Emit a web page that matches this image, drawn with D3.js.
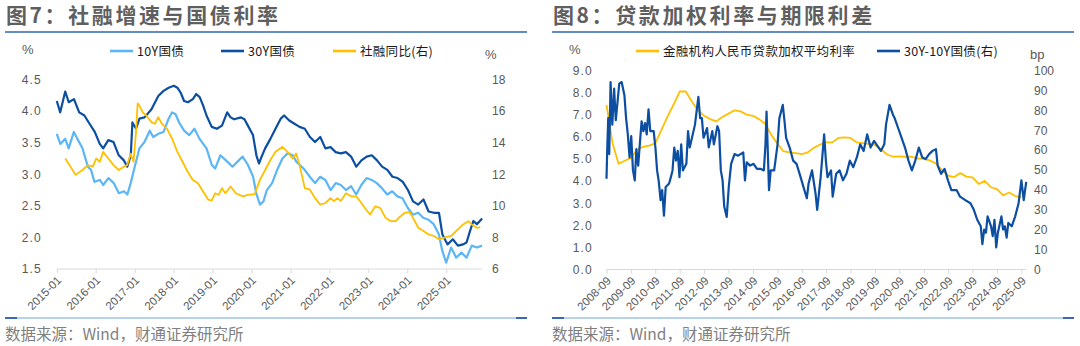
<!DOCTYPE html>
<html><head><meta charset="utf-8">
<script src="https://cdn.jsdelivr.net/npm/d3@7"></script>
<style>
html,body{margin:0;padding:0;background:#fff;}
svg{display:block;}
</style></head><body>
<svg id="c" width="1080" height="346"></svg>
<script>
// ---------- Chart 7 data ----------
const bond10yDates = ["2015-01-01","2015-02-03","2015-03-21","2015-04-22","2015-06-10","2015-07-13","2015-08-30","2015-10-19","2015-11-18","2015-12-20","2016-02-09","2016-03-11","2016-04-29","2016-06-18","2016-08-05","2016-09-22","2016-10-24","2016-11-24","2016-12-28","2017-02-14","2017-04-02","2017-05-22","2017-06-23","2017-08-10","2017-09-28","2017-11-15","2017-12-17","2018-01-19","2018-02-21","2018-04-09","2018-05-27","2018-07-15","2018-09-01","2018-11-05","2018-12-24","2019-01-25","2019-03-15","2019-05-19","2019-07-06","2019-08-23","2019-10-10","2019-11-28","2020-01-16","2020-02-17","2020-03-21","2020-04-22","2020-05-24","2020-07-12","2020-08-29","2020-10-17","2020-12-04","2021-01-22","2021-02-24","2021-03-27","2021-05-14","2021-07-01","2021-08-19","2021-10-06","2021-11-24","2022-01-12","2022-03-01","2022-04-18","2022-06-05","2022-07-23","2022-09-09","2022-10-27","2022-12-15","2023-02-01","2023-03-21","2023-05-08","2023-06-26","2023-08-13","2023-09-30","2023-11-17","2024-01-05","2024-02-23","2024-04-12","2024-05-30","2024-07-18","2024-09-05","2024-10-23","2024-11-24","2024-12-31","2025-02-15","2025-04-04","2025-05-23","2025-07-10","2025-08-28","2025-10-15","2025-12-03"];
const bond10yValues = [3.64,3.48,3.56,3.41,3.67,3.56,3.41,3.12,3.07,2.88,2.91,2.83,2.94,2.86,2.70,2.73,2.68,2.86,3.09,3.41,3.51,3.69,3.59,3.64,3.67,3.88,3.98,3.95,3.82,3.69,3.62,3.72,3.56,3.41,3.15,3.09,3.30,3.20,3.12,3.20,3.28,3.15,2.96,2.68,2.52,2.57,2.75,2.86,3.07,3.25,3.33,3.30,3.20,3.15,3.07,2.96,2.86,2.96,2.91,2.75,2.86,2.83,2.75,2.81,2.68,2.83,2.94,2.91,2.86,2.78,2.68,2.73,2.65,2.62,2.47,2.36,2.39,2.31,2.28,2.21,2.05,1.79,1.60,1.84,1.68,1.76,1.68,1.87,1.84,1.87];

const bond30yDates = ["2015-01-01","2015-02-02","2015-03-21","2015-04-23","2015-06-11","2015-07-30","2015-09-17","2015-11-04","2015-12-23","2016-02-08","2016-03-11","2016-04-28","2016-06-16","2016-08-04","2016-09-21","2016-10-23","2016-11-25","2016-12-10","2017-01-13","2017-02-14","2017-04-03","2017-06-07","2017-08-10","2017-09-28","2017-11-15","2018-01-03","2018-02-05","2018-03-08","2018-04-09","2018-05-15","2018-06-30","2018-07-31","2018-09-02","2018-10-04","2018-11-05","2018-12-24","2019-02-10","2019-03-30","2019-05-18","2019-06-19","2019-07-22","2019-09-24","2019-10-27","2019-11-28","2020-01-15","2020-02-16","2020-03-11","2020-04-05","2020-05-08","2020-06-26","2020-08-13","2020-10-01","2020-11-02","2020-12-20","2021-02-07","2021-03-27","2021-05-15","2021-07-02","2021-08-19","2021-10-07","2021-11-24","2022-01-11","2022-02-28","2022-04-17","2022-06-05","2022-07-23","2022-09-10","2022-10-28","2022-12-16","2023-02-02","2023-03-23","2023-05-10","2023-06-28","2023-08-15","2023-10-02","2023-11-20","2024-01-07","2024-02-24","2024-04-13","2024-06-01","2024-07-19","2024-09-06","2024-10-24","2024-11-25","2024-12-28","2025-01-13","2025-03-03","2025-04-20","2025-06-08","2025-07-10","2025-08-11","2025-09-12","2025-10-15","2025-12-03"];
const bond30yValues = [4.16,3.98,4.31,4.14,4.19,3.98,3.93,3.80,3.67,3.48,3.41,3.54,3.51,3.30,3.22,3.12,3.30,3.82,3.72,3.88,3.90,4.03,4.24,4.32,4.37,4.40,4.37,4.29,4.16,4.14,4.19,4.27,4.22,4.09,3.93,3.75,3.72,3.77,3.98,3.90,3.87,3.90,3.87,3.77,3.62,3.30,3.17,3.28,3.41,3.56,3.72,3.88,3.93,3.85,3.80,3.75,3.72,3.59,3.51,3.59,3.41,3.43,3.35,3.33,3.35,3.28,3.12,3.22,3.28,3.30,3.22,3.12,3.07,2.96,2.94,2.88,2.75,2.57,2.52,2.60,2.41,2.39,2.39,2.05,1.94,1.89,1.97,1.87,1.89,1.92,2.10,2.26,2.21,2.30];

const tsfDates = ["2015-03-21","2015-06-27","2015-08-30","2015-10-18","2015-12-05","2016-01-06","2016-02-08","2016-03-11","2016-04-28","2016-06-16","2016-08-04","2016-09-21","2016-10-23","2016-11-25","2016-12-20","2017-01-13","2017-01-28","2017-02-14","2017-03-17","2017-04-19","2017-06-07","2017-07-09","2017-08-10","2017-09-12","2017-10-30","2017-12-18","2018-02-05","2018-03-25","2018-05-12","2018-06-30","2018-08-17","2018-10-04","2018-11-22","2018-12-24","2019-01-25","2019-02-27","2019-03-30","2019-05-01","2019-06-19","2019-08-07","2019-10-11","2019-11-28","2020-01-31","2020-03-20","2020-05-08","2020-06-26","2020-08-13","2020-10-16","2020-12-04","2021-01-21","2021-02-23","2021-03-27","2021-05-15","2021-07-02","2021-08-19","2021-10-07","2021-11-24","2022-01-11","2022-02-12","2022-03-17","2022-04-17","2022-06-05","2022-07-23","2022-09-10","2022-10-28","2022-11-29","2023-01-17","2023-03-07","2023-04-24","2023-06-11","2023-07-30","2023-09-16","2023-10-19","2023-12-06","2024-01-24","2024-02-24","2024-04-13","2024-06-01","2024-07-19","2024-09-06","2024-10-24","2024-12-12","2025-02-15","2025-04-20","2025-06-08","2025-07-26","2025-08-28","2025-10-15","2025-11-16"];
const tsfValues = [13.0,11.96,12.27,12.58,12.48,13.0,12.79,13.42,13.0,12.58,12.27,12.48,12.58,13.31,12.79,14.67,16.49,16.35,15.92,15.72,15.3,15.2,15.61,15.2,14.88,14.25,13.42,12.79,12.16,11.64,11.43,10.91,10.39,10.33,10.8,10.7,11.12,10.8,11.22,10.8,10.6,10.7,10.74,11.64,12.27,12.9,13.42,13.73,13.42,13.0,13.31,12.58,11.12,11.02,10.49,10.08,10.18,10.49,10.3,10.49,10.3,10.8,10.6,10.6,10.18,9.86,9.45,9.97,9.86,9.24,9.03,9.03,9.28,9.55,9.61,9.24,8.61,8.40,8.19,8.09,7.88,7.98,8.09,8.51,8.82,9.03,8.82,8.61,8.65];

const chart7XTicks = ["2015-01","2016-01","2017-01","2018-01","2019-01","2020-01","2021-01","2022-01","2023-01","2024-01","2025-01"];
const chart7YTicks = [1.5,2.0,2.5,3.0,3.5,4.0,4.5];
const chart7Y2Ticks = [6,8,10,12,14,16,18];

// ---------- Chart 8 data ----------
const loanRateDates = ["2008-09-01","2008-12-01","2009-03-01","2009-06-01","2009-09-01","2009-12-01","2010-03-01","2010-06-01","2010-09-01","2010-12-01","2011-03-01","2011-06-01","2011-09-01","2011-12-01","2012-03-01","2012-06-01","2012-09-01","2012-12-01","2013-03-01","2013-06-01","2013-09-01","2013-12-01","2014-03-01","2014-06-01","2014-09-01","2014-12-01","2015-03-01","2015-06-01","2015-09-01","2015-12-01","2016-03-01","2016-06-01","2016-09-01","2016-12-01","2017-03-01","2017-06-01","2017-09-01","2017-12-01","2018-03-01","2018-06-01","2018-09-01","2018-12-01","2019-03-01","2019-06-01","2019-09-01","2019-12-01","2020-03-01","2020-06-01","2020-09-01","2020-12-01","2021-03-01","2021-06-01","2021-09-01","2021-12-01","2022-03-01","2022-06-01","2022-09-01","2022-12-01","2023-03-01","2023-06-01","2023-09-01","2023-12-01","2024-03-01","2024-06-01","2024-09-01","2024-12-01","2025-03-01","2025-06-01","2025-09-01"];
const loanRateValues = [7.44,5.7,4.78,4.92,5.05,5.4,5.55,5.6,5.7,6.3,6.9,7.45,8.05,8.05,7.6,7.2,6.95,6.8,6.7,6.9,7.05,7.2,7.15,7.0,6.95,6.8,6.6,6.1,5.7,5.35,5.3,5.26,5.22,5.3,5.5,5.65,5.75,5.75,5.95,5.98,5.95,5.75,5.72,5.68,5.62,5.44,5.2,5.1,5.12,5.1,5.1,5.02,5.0,4.93,4.8,4.5,4.25,4.18,4.36,4.2,4.17,3.87,4.01,3.72,3.64,3.35,3.48,3.32,3.27];

const spreadDates = ["2008-09-01","2008-09-12","2008-09-27","2008-10-12","2008-11-01","2008-11-27","2008-12-24","2009-01-18","2009-03-11","2009-04-16","2009-05-27","2009-06-21","2009-07-17","2009-08-12","2009-09-06","2009-10-02","2009-10-29","2009-11-22","2009-12-19","2010-02-08","2010-03-07","2010-04-02","2010-04-26","2010-05-23","2010-06-18","2010-08-08","2010-09-03","2010-09-28","2010-10-24","2010-11-19","2010-12-13","2011-01-09","2011-02-04","2011-03-27","2011-04-22","2011-05-17","2011-06-12","2011-07-08","2011-08-03","2011-08-29","2011-09-24","2011-10-19","2011-12-10","2012-01-04","2012-01-30","2012-04-17","2012-06-07","2012-07-03","2012-07-29","2012-08-23","2012-10-15","2012-11-09","2013-01-01","2013-01-25","2013-03-19","2013-04-13","2013-05-09","2013-06-04","2013-06-29","2013-08-05","2013-09-05","2013-10-10","2013-11-30","2014-01-22","2014-04-10","2014-05-05","2014-05-31","2014-07-20","2014-09-11","2014-11-01","2014-12-22","2015-02-12","2015-03-08","2015-03-24","2015-04-30","2015-05-25","2015-07-16","2015-09-05","2015-10-02","2015-11-22","2015-12-18","2016-01-11","2016-03-04","2016-04-25","2016-06-15","2016-08-07","2016-09-26","2016-11-16","2016-12-12","2017-02-02","2017-03-26","2017-04-20","2017-06-11","2017-08-02","2017-08-28","2017-09-21","2017-11-13","2017-12-08","2018-01-29","2018-03-21","2018-05-11","2018-07-02","2018-08-22","2018-10-12","2018-12-04","2019-01-24","2019-03-16","2019-05-08","2019-06-28","2019-08-18","2019-10-09","2019-11-29","2020-01-19","2020-02-14","2020-04-06","2020-05-28","2020-06-22","2020-08-13","2020-10-04","2020-11-24","2021-01-15","2021-03-07","2021-04-27","2021-06-19","2021-08-09","2021-09-29","2021-11-20","2022-01-10","2022-03-02","2022-03-28","2022-05-18","2022-07-09","2022-08-29","2022-10-19","2023-01-05","2023-02-26","2023-05-15","2023-07-31","2023-09-20","2023-11-10","2024-01-02","2024-01-26","2024-02-22","2024-03-19","2024-04-13","2024-06-04","2024-06-29","2024-07-25","2024-08-20","2024-09-14","2024-11-06","2024-12-01","2024-12-27","2025-01-23","2025-02-17","2025-04-10","2025-05-31","2025-07-21","2025-09-01","2025-10-06","2025-11-12"];
const spreadValues = [45.6,60.5,76.1,58,94.2,72.8,90.9,75,93.4,94.2,87.6,76.1,67.9,56.3,67.0,49.8,44.8,60.5,52.2,74.5,69.5,73.6,67.9,80.5,69.5,69.5,61.3,49.8,44,34.9,39.9,27,41.5,43.2,46.4,49.8,61.3,54.7,59.6,46.4,62.9,49.8,53.1,69.5,61.3,72.8,86.8,76,76.1,66.2,71.1,61.3,69.5,62.9,72.0,69.5,49.8,44.8,31.6,26.4,41.5,53.1,58.0,57.2,58.8,44.8,53.9,52.2,53.1,50.6,50.6,49.8,62.9,79.4,39.9,49.8,49.8,62.9,76,82.7,74.5,66.2,61.3,54.7,53.1,47.3,41.5,35.8,43.2,49.8,38.2,30.0,46.4,67.9,54.7,46.4,49.8,36.6,48.1,49.8,44.8,48.1,54.7,51.4,56.3,62.9,59.6,67.9,61.3,64.6,62.1,59.6,62.9,72.8,82.7,77.8,76.1,71.1,66.2,61.3,54.7,49.8,54.7,61.3,56.3,55.5,58.0,59.6,60.5,52.2,48.1,50.6,44.8,39.9,39.9,36.6,34.9,33.3,30.0,25.0,21.7,12.7,20,18.5,26.7,21.7,16.8,25.0,11.1,18.5,26.7,20.1,21.7,16.0,23.4,21.7,26.7,33.3,44.8,34.9,44.0];

const chart8XTicks = ["2008-09","2009-09","2010-09","2011-09","2012-09","2013-09","2014-09","2015-09","2016-09","2017-09","2018-09","2019-09","2020-09","2021-09","2022-09","2023-09","2024-09","2025-09"];
const chart8YTicks = [0,1,2,3,4,5,6,7,8,9];
const chart8Y2Ticks = [0,10,20,30,40,50,60,70,80,90,100];

// ---------- drawing ----------
const svg = d3.select("#c");
const parseDay = d3.timeParse("%Y-%m-%d");
const parseMonth = d3.timeParse("%Y-%m");
const zip = (ds, vs) => ds.map((d, i) => ({date: parseDay(d), v: vs[i]}));

const C10 = "#5cb6f5", C30 = "#0b4ea2", CY = "#ffc000";
const CJK = "'Noto Sans CJK SC', sans-serif";
const NUM = "'Liberation Sans', Arial, sans-serif";
const AXC = "#595959";

function frame(x0, x1, title) {
  svg.append("text").attr("x", x0 + 1).attr("y", 23)
    .attr("font-family", CJK).attr("font-size", 21).attr("font-weight", 700)
    .attr("letter-spacing", 2.6).attr("fill", "#5f5f5f").text(title);
  svg.append("line").attr("x1", x0).attr("x2", x1).attr("y1", 32).attr("y2", 32)
    .attr("stroke", "#2f66b3").attr("stroke-width", 1.6);
  svg.append("line").attr("x1", x0).attr("x2", x1).attr("y1", 318).attr("y2", 318)
    .attr("stroke", "#9fc3e8").attr("stroke-width", 1.4);
  svg.append("line").attr("x1", x0).attr("x2", x0 + 12).attr("y1", 318).attr("y2", 318)
    .attr("stroke", "#1b4f9c").attr("stroke-width", 1.6);
  svg.append("line").attr("x1", x1 - 11).attr("x2", x1).attr("y1", 318).attr("y2", 318)
    .attr("stroke", "#1b4f9c").attr("stroke-width", 1.6);
  svg.append("text").attr("x", x0).attr("y", 340)
    .attr("font-family", CJK).attr("font-size", 15.5).attr("fill", "#7f7f7f")
    .text("数据来源：Wind，财通证券研究所");
}

function xAxis(x, ticks, y0, xEnd) {
  svg.append("line").attr("x1", x.range()[0]).attr("x2", xEnd).attr("y1", y0).attr("y2", y0)
    .attr("stroke", "#d9d9d9").attr("stroke-width", 1);
  const g = svg.append("g").attr("transform", `translate(0,${y0})`)
    .call(d3.axisBottom(x).tickValues(ticks.map(parseMonth))
      .tickFormat(d3.timeFormat("%Y-%m")).tickSize(4).tickPadding(2));
  g.select(".domain").remove();
  g.selectAll(".tick line").attr("stroke", "#d9d9d9");
  g.selectAll(".tick text")
    .attr("font-family", NUM).attr("font-size", 11.5).attr("fill", AXC)
    .attr("text-anchor", "end").attr("x", 0).attr("y", 0).attr("dy", "0.35em")
    .attr("transform", "translate(2,9) rotate(-45)");
}

function yAxis(scale, ticks, fmt, xPos, side, ls) {
  const ax = side === "left" ? d3.axisLeft(scale) : d3.axisRight(scale);
  const g = svg.append("g").attr("transform", `translate(${xPos},0)`)
    .call(ax.tickValues(ticks).tickFormat(fmt).tickSize(0).tickPadding(0));
  g.select(".domain").remove();
  g.selectAll(".tick text").attr("font-family", NUM).attr("font-size", 12)
    .attr("fill", AXC).attr("letter-spacing", ls || 0);
}

function legendItem(x, y, color, label) {
  svg.append("line").attr("x1", x).attr("x2", x + 23).attr("y1", y).attr("y2", y)
    .attr("stroke", color).attr("stroke-width", 2.6);
  svg.append("text").attr("x", x + 27).attr("y", y + 4.5)
    .attr("font-family", CJK).attr("font-size", 12.5).attr("fill", "#1a1a1a")
    .attr("letter-spacing", 0.3).text(label);
}

function unitLabel(x, y, t, anchor) {
  svg.append("text").attr("x", x).attr("y", y).attr("text-anchor", anchor || "start")
    .attr("font-family", NUM).attr("font-size", 13).attr("fill", AXC).text(t);
}

// ===== Chart 7 =====
frame(5, 527, "图7：社融增速与国债利率");
const x7 = d3.scaleTime().domain([parseMonth("2015-01"), parseMonth("2025-01")]).range([56.8, 446.3]);
const y7 = d3.scaleLinear().domain([1.5, 4.5]).range([269, 79.5]);
const y7r = d3.scaleLinear().domain([6, 18]).range([269, 79.5]);
xAxis(x7, chart7XTicks, 269, x7(parseDay("2025-12-03")));
yAxis(y7, chart7YTicks, d3.format(".1f"), 42, "left", 1.2);
yAxis(y7r, chart7Y2Ticks, d3.format("d"), 492, "right");
unitLabel(22, 54, "%");
unitLabel(485, 59, "%");

const line7 = d3.line().x(d => x7(d.date)).y(d => y7(d.v));
const line7r = d3.line().x(d => x7(d.date)).y(d => y7r(d.v));
svg.append("path").datum(zip(bond10yDates, bond10yValues)).attr("d", line7)
  .attr("fill", "none").attr("stroke", C10).attr("stroke-width", 2.2).attr("stroke-linejoin", "round");
svg.append("path").datum(zip(bond30yDates, bond30yValues)).attr("d", line7)
  .attr("fill", "none").attr("stroke", C30).attr("stroke-width", 2.2).attr("stroke-linejoin", "round");
svg.append("path").datum(zip(tsfDates, tsfValues)).attr("d", line7r)
  .attr("fill", "none").attr("stroke", CY).attr("stroke-width", 1.8).attr("stroke-linejoin", "round");

legendItem(110, 51, C10, "10Y国债");
legendItem(221, 51, C30, "30Y国债");
legendItem(333, 51, CY, "社融同比(右)");

// ===== Chart 8 =====
frame(552, 1074, "图8：贷款加权利率与期限利差");
const x8 = d3.scaleTime().domain([parseMonth("2008-09"), parseMonth("2025-09")]).range([606.5, 1021.4]);
const y8 = d3.scaleLinear().domain([0, 9]).range([269.5, 70.5]);
const y8r = d3.scaleLinear().domain([0, 100]).range([269.5, 70.5]);
xAxis(x8, chart8XTicks, 269.5, x8(parseDay("2025-11-12")));
yAxis(y8, chart8YTicks, d3.format(".1f"), 593, "left", 1.2);
yAxis(y8r, chart8Y2Ticks, d3.format("d"), 1034, "right");
unitLabel(569, 54, "%");
unitLabel(1030, 59, "bp");

const line8 = d3.line().x(d => x8(d.date)).y(d => y8(d.v));
const line8r = d3.line().x(d => x8(d.date)).y(d => y8r(d.v));
svg.append("path").datum(zip(loanRateDates, loanRateValues)).attr("d", line8)
  .attr("fill", "none").attr("stroke", CY).attr("stroke-width", 1.8).attr("stroke-linejoin", "round");
svg.append("path").datum(zip(spreadDates, spreadValues)).attr("d", line8r)
  .attr("fill", "none").attr("stroke", C30).attr("stroke-width", 2.2).attr("stroke-linejoin", "round");

legendItem(636, 51, CY, "金融机构人民币贷款加权平均利率");
legendItem(877, 51, C30, "30Y-10Y国债(右)");
</script>
</body></html>
